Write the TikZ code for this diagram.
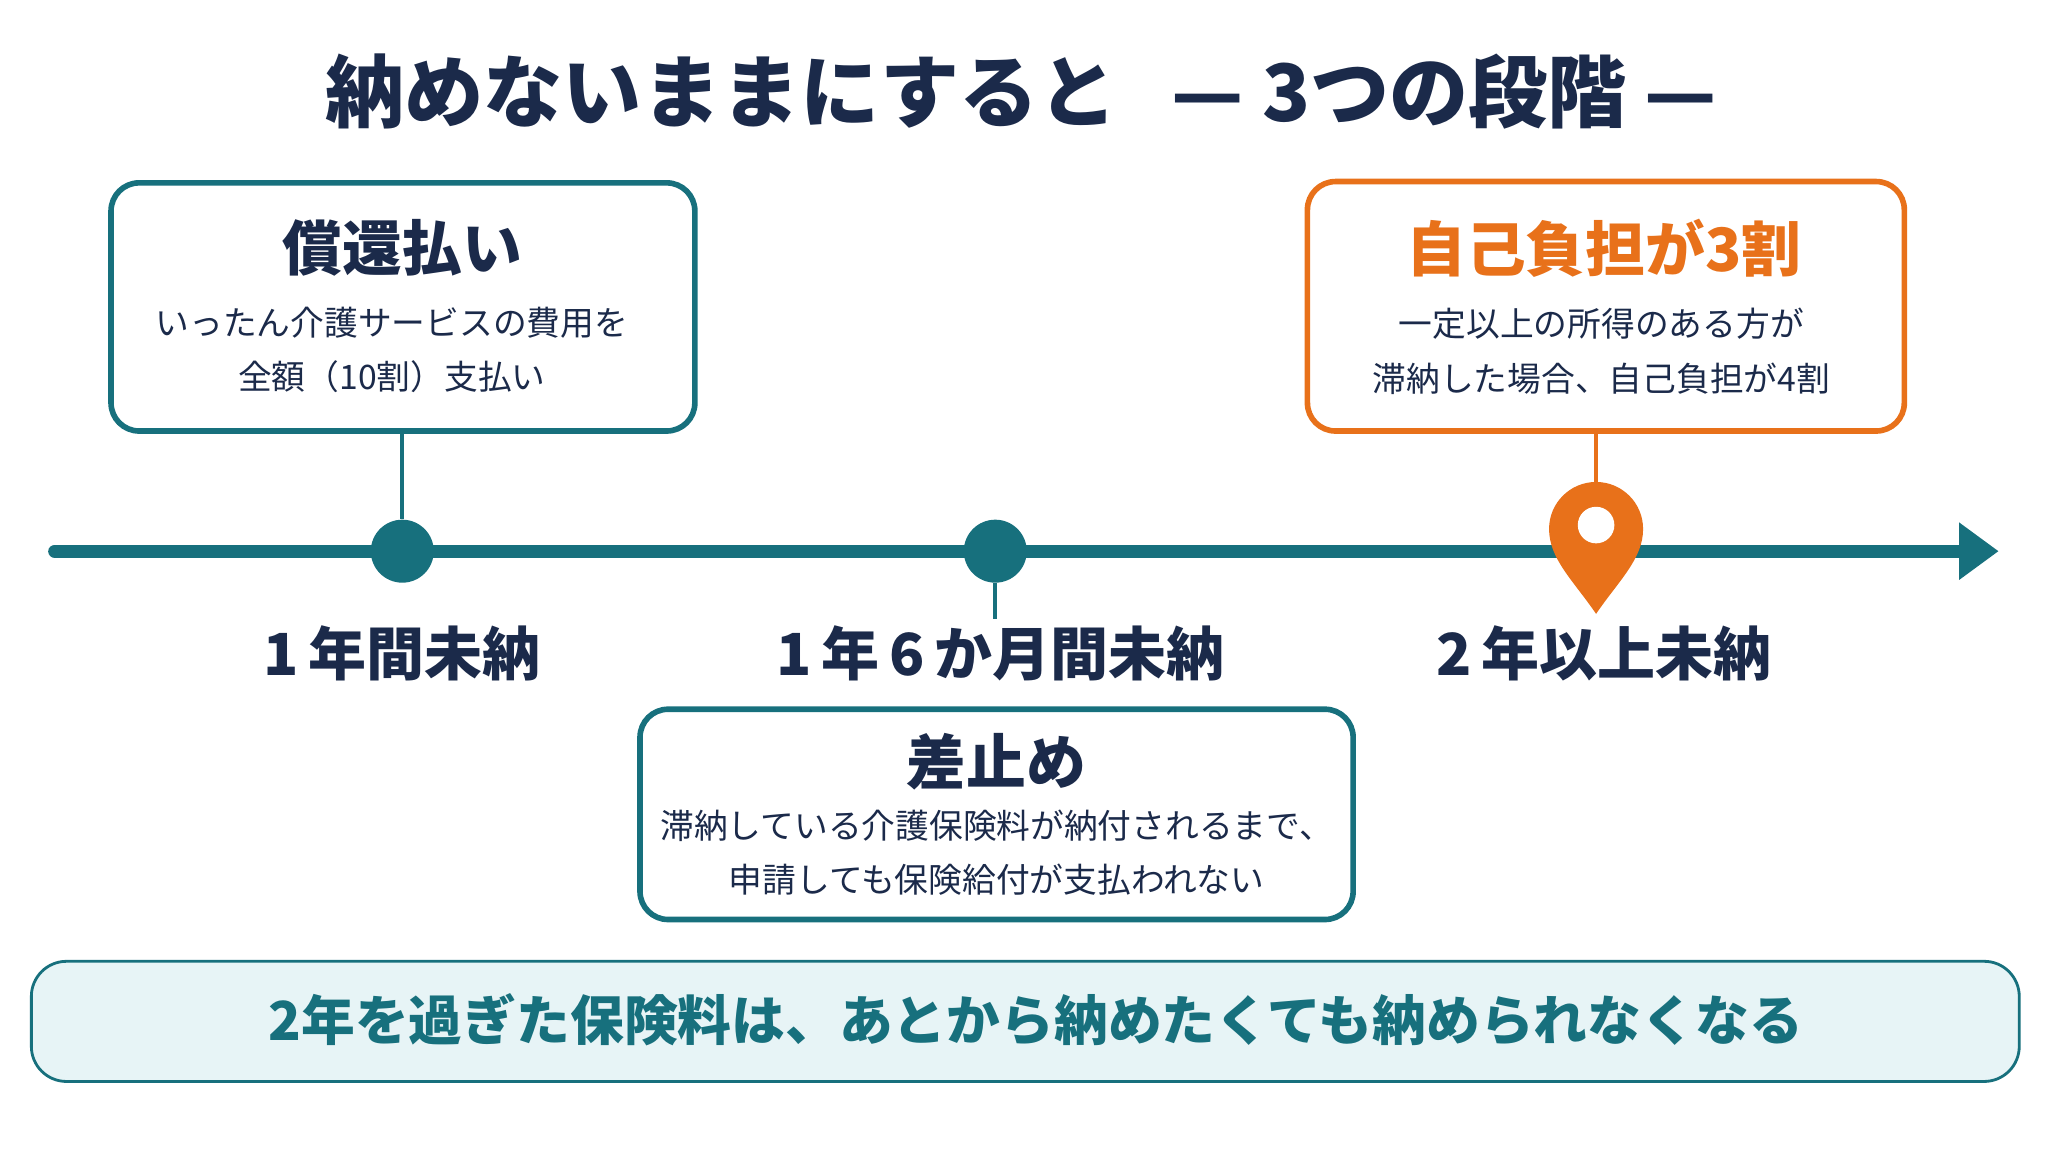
\documentclass[tikz,border=0pt]{standalone}
\usepackage{fontspec}
\setmainfont{Noto Sans CJK JP}
\begin{document}
\begin{tikzpicture}[x=0.01306cm,y=-0.01306cm,
  navy/.style={text=nv},
  box/.style={draw=tl,line width=1.6pt,rounded corners=8pt,fill=white},
  lbl/.style={font=\fontsize{16.5}{20}\selectfont\bfseries,text=nv},
  dot/.style={circle,fill=tl,minimum size=0.63cm,inner sep=0},
  body/.style={font=\fontsize{9.6}{15.5}\selectfont,text=nv,align=center}]
\definecolor{nv}{HTML}{1B2A4A}
\definecolor{tl}{HTML}{17707D}
\definecolor{og}{HTML}{E8711A}
\definecolor{lt}{HTML}{E7F4F6}
\useasboundingbox (0,0) rectangle (1568,882);
\node[navy,font=\fontsize{22.5}{26}\selectfont\bfseries] (title) at (782,70) {納めないままにすると\ \ \ — 3つの段階 —};
% timeline
\coordinate (ls) at (42,422);
\coordinate (le) at (1530,422);
\draw[tl,line width=3.8pt,line cap=round] (ls) -- (1500,422);
\fill[tl] (le) -- (1500,400) -- (1500,444) -- cycle;
\node[dot] (c1) at (308,422) {};
\node[dot] (c2) at (762,422) {};
% box1
\draw[box] (85,140) rectangle (532,330);
\node[navy,font=\fontsize{17}{20}\selectfont\bfseries] (t1) at (308,190) {償還払い};
\node[body] (b1) at (300,268) {いったん介護サービスの費用を\\全額（10割）支払い};
\coordinate (b1b) at (308,331);
\draw[tl,line width=1.2pt] (b1b) -- (c1);
% box2
\draw[box,draw=og] (1001,139) rectangle (1458,330);
\node[text=og,font=\fontsize{17}{20}\selectfont\bfseries] (t2) at (1228,190) {自己負担が3割};
\node[body] (b2) at (1226,269) {一定以上の所得のある方が\\滞納した場合、自己負担が4割};
% pin
\coordinate (pt) at (1222,470);
\coordinate (b2b) at (1222,331);
\draw[og,line width=1.2pt] (b2b) -- (1222,370);
\fill[og] (pt) .. controls (1205,445) and (1186,428) .. (1186,405) arc (180:360:36) .. controls (1258,428) and (1239,445) .. (pt);
\fill[white] (1222,402) circle (14);
% labels
\node[lbl] (l1) at (308,500) {1\,年間未納};
\node[lbl] (l2) at (766,500) {1\,年\,6\,か月間未納};
\node[lbl] (l3) at (1228,500) {2\,年以上未納};
\coordinate (c2b) at (762,474);
\draw[tl,line width=1.2pt] (c2) -- (c2b);
% box3
\draw[box] (490,543) rectangle (1036,704);
\node[navy,font=\fontsize{17}{20}\selectfont\bfseries] (t3) at (763,583) {差止め};
\node[body] (b3) at (763,653) {滞納している介護保険料が納付されるまで、\\申請しても保険給付が支払われない};
% bottom
\draw[draw=tl,line width=0.8pt,fill=lt,rounded corners=10pt] (24,736) rectangle (1546,828);
\node[text=tl,font=\fontsize{15.3}{20}\selectfont\bfseries] (bt) at (793,781) {2年を過ぎた保険料は、あとから納めたくても納められなくなる};
\end{tikzpicture}
\end{document}
